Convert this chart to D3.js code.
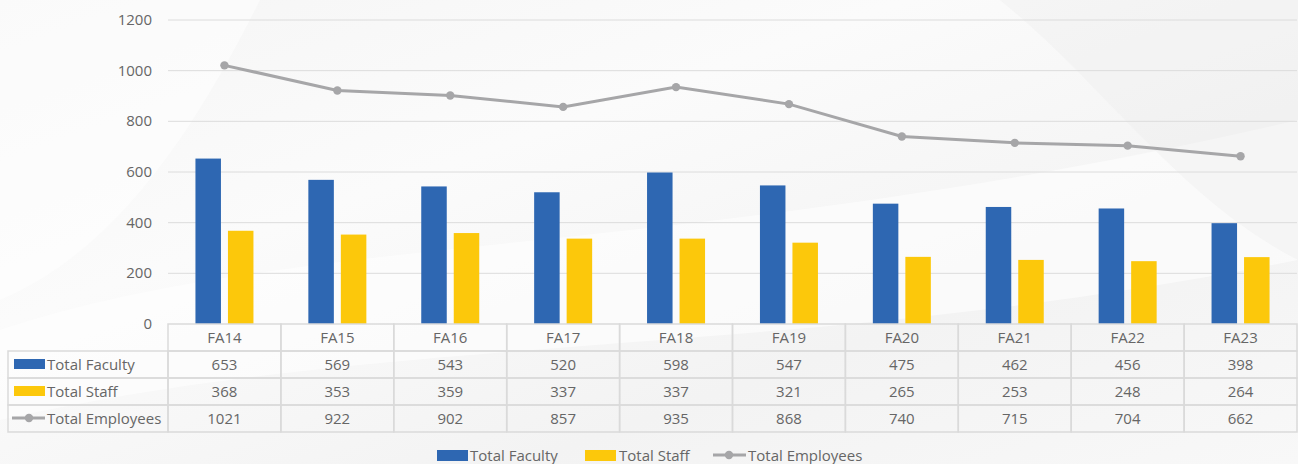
<!DOCTYPE html>
<html>
<head>
<meta charset="utf-8">
<script src="https://cdn.jsdelivr.net/npm/d3@7"></script>
<style>
  body { margin: 0; background: #fff; }
  text { font-family: "Open Sans", "Liberation Sans", sans-serif; fill: #666666; }
</style>
</head>
<body>
<div id="chart"></div>
<script>
// chart data
const years = ["FA14", "FA15", "FA16", "FA17", "FA18", "FA19", "FA20", "FA21", "FA22", "FA23"];
const faculty = [653, 569, 543, 520, 598, 547, 475, 462, 456, 398];
const staff = [368, 353, 359, 337, 337, 321, 265, 253, 248, 264];
const employees = [1021, 922, 902, 857, 935, 868, 740, 715, 704, 662];
const yTicks = [0, 200, 400, 600, 800, 1000, 1200];

const W = 1298, H = 464;
const blue = "#2e67b2", yellow = "#fcc80b", grey = "#a6a6a8";

const svg = d3.select("#chart").append("svg")
    .attr("width", W).attr("height", H);

// soft background swooshes
const defs = svg.append("defs");
const bg = defs.append("linearGradient").attr("id", "bg")
    .attr("x1", "0").attr("y1", "0").attr("x2", "1").attr("y2", "1");
bg.append("stop").attr("offset", "0%").attr("stop-color", "#f5f5f5");
bg.append("stop").attr("offset", "35%").attr("stop-color", "#fbfbfb");
bg.append("stop").attr("offset", "70%").attr("stop-color", "#f3f3f3");
bg.append("stop").attr("offset", "100%").attr("stop-color", "#f8f8f8");
svg.append("rect").attr("width", W).attr("height", H).attr("fill", "url(#bg)");
svg.append("path")
    .attr("d", "M0,330 C300,230 700,260 1298,120 L1298,260 C800,360 400,330 0,420 Z")
    .attr("fill", "#ffffff").attr("opacity", 0.55);
svg.append("path")
    .attr("d", "M1000,0 C1100,80 1180,200 1298,260 L1298,0 Z")
    .attr("fill", "#ececec").attr("opacity", 0.35);
svg.append("path")
    .attr("d", "M0,0 L260,0 C200,120 120,250 0,300 Z")
    .attr("fill", "#ffffff").attr("opacity", 0.5);

const plotLeft = 168, plotRight = 1297, plotTop = 20, plotBottom = 324;

const x = d3.scaleBand().domain(years).range([plotLeft, plotRight]);
const y = d3.scaleLinear().domain([0, 1200]).range([plotBottom, plotTop]);

// gridlines
svg.append("g").selectAll("line").data(yTicks.filter(d => d > 0)).join("line")
    .attr("x1", plotLeft).attr("x2", plotRight)
    .attr("y1", d => y(d)).attr("y2", d => y(d))
    .attr("stroke", "#dcdcdc").attr("stroke-width", 1);

// y axis labels
svg.append("g").selectAll("text").data(yTicks).join("text")
    .attr("x", 152).attr("y", d => y(d) + 5)
    .attr("text-anchor", "end")
    .style("font-size", "15px")
    .text(d => d);

// bars
const barW = 25.5;
svg.append("g").selectAll("rect").data(faculty).join("rect")
    .attr("x", (d, i) => x(years[i]) + x.bandwidth() / 2 - 29)
    .attr("y", d => y(d)).attr("width", barW)
    .attr("height", d => y(0) - y(d)).attr("fill", blue);
svg.append("g").selectAll("rect").data(staff).join("rect")
    .attr("x", (d, i) => x(years[i]) + x.bandwidth() / 2 + 3.5)
    .attr("y", d => y(d)).attr("width", barW)
    .attr("height", d => y(0) - y(d)).attr("fill", yellow);

// line
const line = d3.line()
    .x((d, i) => x(years[i]) + x.bandwidth() / 2)
    .y(d => y(d));
svg.append("path").datum(employees)
    .attr("d", line).attr("fill", "none")
    .attr("stroke", grey).attr("stroke-width", 3);
svg.append("g").selectAll("circle").data(employees).join("circle")
    .attr("cx", (d, i) => x(years[i]) + x.bandwidth() / 2)
    .attr("cy", d => y(d)).attr("r", 4.2).attr("fill", grey);

// data table
const rowH = 27;
const tableRows = [
    { name: "Total Faculty", values: faculty, type: "bar", color: blue },
    { name: "Total Staff", values: staff, type: "bar", color: yellow },
    { name: "Total Employees", values: employees, type: "line", color: grey }
];
const tbl = svg.append("g");
const lineCol = "#dadada";

// header cells
years.forEach(yr => {
    tbl.append("rect").attr("x", x(yr)).attr("y", plotBottom)
        .attr("width", x.bandwidth()).attr("height", rowH)
        .attr("fill", "none").attr("stroke", lineCol).attr("stroke-width", 1.5);
    tbl.append("text").attr("x", x(yr) + x.bandwidth() / 2).attr("y", plotBottom + 19)
        .attr("text-anchor", "middle").style("font-size", "15px").text(yr);
});

tableRows.forEach((r, ri) => {
    const ry = plotBottom + rowH * (ri + 1);
    tbl.append("rect").attr("x", 8).attr("y", ry)
        .attr("width", plotLeft - 8).attr("height", rowH)
        .attr("fill", "none").attr("stroke", lineCol).attr("stroke-width", 1.5);
    if (r.type === "bar") {
        tbl.append("rect").attr("x", 14).attr("y", ry + 8)
            .attr("width", 31).attr("height", 10).attr("fill", r.color);
    } else {
        tbl.append("line").attr("x1", 12).attr("x2", 45)
            .attr("y1", ry + 13).attr("y2", ry + 13)
            .attr("stroke", r.color).attr("stroke-width", 3);
        tbl.append("circle").attr("cx", 29).attr("cy", ry + 13)
            .attr("r", 4.2).attr("fill", r.color);
    }
    tbl.append("text").attr("x", 47).attr("y", ry + 19)
        .style("font-size", "15px").text(r.name);
    r.values.forEach((v, i) => {
        tbl.append("rect").attr("x", x(years[i])).attr("y", ry)
            .attr("width", x.bandwidth()).attr("height", rowH)
            .attr("fill", "none").attr("stroke", lineCol).attr("stroke-width", 1.5);
        tbl.append("text").attr("x", x(years[i]) + x.bandwidth() / 2).attr("y", ry + 19)
            .attr("text-anchor", "middle").style("font-size", "15px").text(v);
    });
});

// legend
const legend = svg.append("g");
const ly = 455;
legend.append("rect").attr("x", 437).attr("y", ly - 5).attr("width", 31).attr("height", 11).attr("fill", blue);
legend.append("text").attr("x", 470).attr("y", ly + 6).style("font-size", "15px").text("Total Faculty");
legend.append("rect").attr("x", 585).attr("y", ly - 5).attr("width", 31).attr("height", 11).attr("fill", yellow);
legend.append("text").attr("x", 619).attr("y", ly + 6).style("font-size", "15px").text("Total Staff");
legend.append("line").attr("x1", 713).attr("x2", 746).attr("y1", ly).attr("y2", ly)
    .attr("stroke", grey).attr("stroke-width", 3);
legend.append("circle").attr("cx", 729).attr("cy", ly).attr("r", 4.2).attr("fill", grey);
legend.append("text").attr("x", 748).attr("y", ly + 6).style("font-size", "15px").text("Total Employees");
</script>
</body>
</html>
